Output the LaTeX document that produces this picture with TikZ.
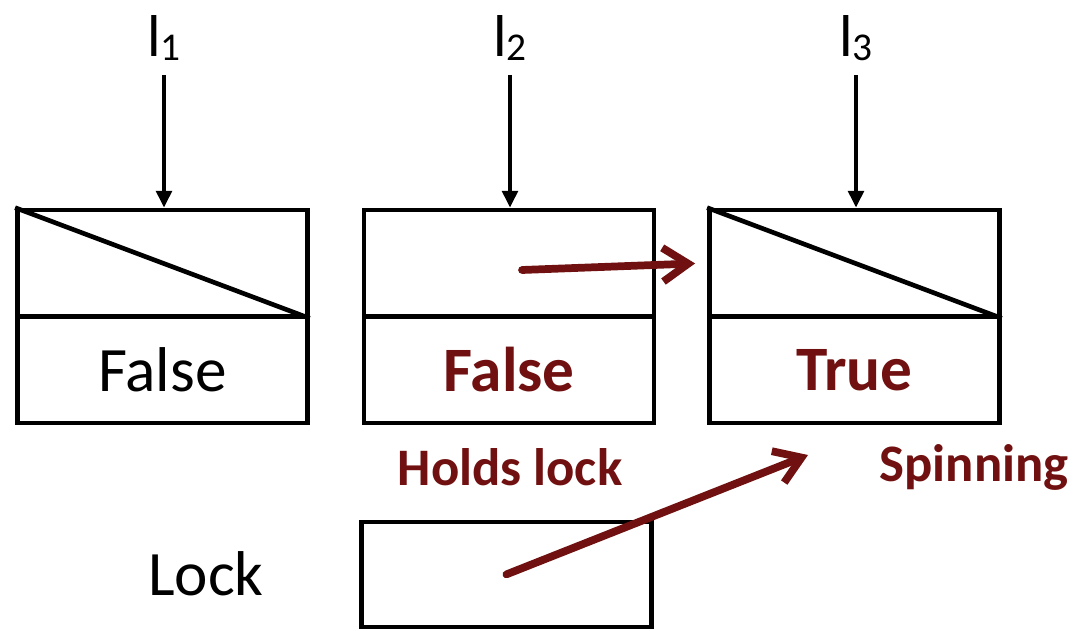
\documentclass[tikz,border=0pt]{standalone}
\usepackage{fontspec}
\setmainfont{Carlito}
\usetikzlibrary{arrows.meta}
\definecolor{lockred}{RGB}{112,16,16}
\newcommand{\lsub}[1]{l\raisebox{-3pt}{\fontsize{28}{30}\selectfont #1}}

\begin{document}
\begin{tikzpicture}[
		cell/.style={draw, line width=3.3pt, minimum width=7.25cm, minimum height=2.65cm, inner sep=0pt, font=\fontsize{45}{50}\selectfont},
		thread/.style={font=\fontsize{42}{48}\selectfont, inner sep=0pt},
		note/.style={font=\fontsize{37.5}{42}\selectfont\bfseries, text=lockred},
		ptr/.style={-{Triangle[length=12pt,width=11pt]}, line width=3pt},
		move/.style={-{Straight Barb[length=18pt,width=24pt,line width=5.5pt]}, line width=5.5pt, color=lockred, line cap=round}
	]
				
				\useasboundingbox (0,0) rectangle (26.925,-15.775);
				
				\node[thread] (L1) at (4.1,-0.95) {\lsub{1}};
				\node[thread] (L2) at (12.75,-0.95) {\lsub{2}};
				\node[thread] (L3) at (21.4,-0.95) {\lsub{3}};
				
				\node[cell] (Top1) at (4.06,-6.575) {};
				\node[cell] (Flag1) at (4.06,-9.25) {False};
				\node[cell] (Top2) at (12.725,-6.575) {};
				\node[cell] (Flag2) at (12.725,-9.25) {\textcolor{lockred}{\bfseries False}};
				\node[cell] (Top3) at (21.36,-6.575) {};
				\node[cell] (Flag3) at (21.36,-9.25) {\textcolor{lockred}{\bfseries True}};
				
				\draw[line width=3.3pt] (Top1.north west) -- (Top1.south east);
				\draw[line width=3.3pt] (Top3.north west) -- (Top3.south east);
				
				\draw[ptr] (L1.south) ++(0,-0.35) coordinate (P1) -- (P1 |- Top1.north);
				\draw[ptr] (L2.south) ++(0,-0.35) coordinate (P2) -- (P2 |- Top2.north);
				\draw[ptr] (L3.south) ++(0,-0.35) coordinate (P3) -- (P3 |- Top3.north);
				
				\node[note] (Holds) at (12.75,-11.68) {Holds lock};
				\node[note] (Spin) at (24.35,-11.68) {Spinning};
				
				\node[thread, font=\fontsize{45}{50}\selectfont] (LockName) at (5.15,-14.35) {Lock};
				\node[cell, minimum height=2.625cm] (Lock) at (12.66,-14.36) {};
				
				\coordinate (Next) at (13.05,-6.75);
				\coordinate (Wait) at (20.2,-11.375);
				\draw[move, shorten >=0.3cm] (Next) -- (Top3.west);
				\draw[move] (Lock.center) -- (Wait);
				
			\end{tikzpicture}
\end{document}
